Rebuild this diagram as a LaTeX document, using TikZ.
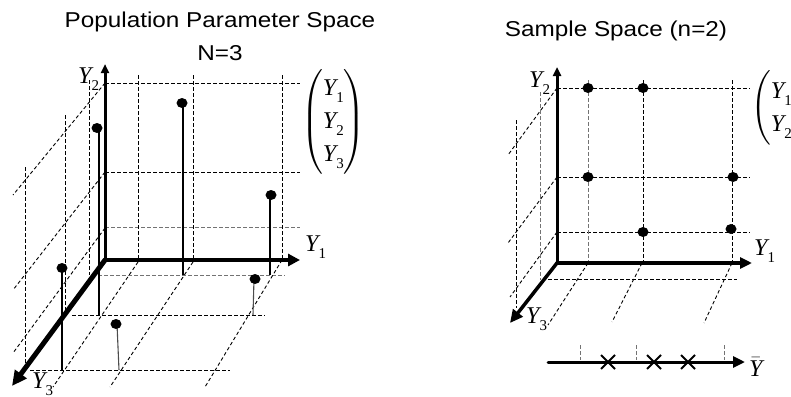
\documentclass[tikz,border=0pt]{standalone}
\usepackage{amsmath}
\usepackage{fontspec}
\setmainfont{Liberation Serif}
\newfontfamily\titlefont[FakeStretch=1.13]{Liberation Sans}
\usetikzlibrary{arrows.meta}
\newcommand{\yv}[1]{\textit{Y}\kern-2pt\raisebox{-7pt}{\fontsize{15}{15}\selectfont #1}}

\begin{document}
\begin{tikzpicture}[x=1pt, y=-1pt,
  ttl/.style={font=\titlefont\fontsize{21.5}{25}\selectfont, inner sep=0},
  lab/.style={font=\fontsize{24}{33}\selectfont, inner sep=0},
  gd/.style={dash pattern=on 3.5pt off 2.5pt, line width=0.9pt, black},
  gl/.style={gd, black!55},
  stem/.style={line width=1.1pt},
  axis/.style={line width=#1, line cap=round},
  dot/.style={fill=black}]
\useasboundingbox (0,0) rectangle (791,396);

% ---- left: population parameter space
\node[ttl, anchor=base] (t1) at (220,28) {Population Parameter Space};
\node[ttl, anchor=base] (t2) at (220,60) {N=3};
\coordinate (oL) at (105,260);
\coordinate (y1L) at (300,260);
\coordinate (y2L) at (105,64);
\coordinate (y3L) at (12,386);
% back plane
\draw[gd] (105,83) -- (300,83);
\draw[gd] (105,172) -- (300,172);
\draw[gl] (105,227) -- (300,227);
\draw[gd] (138,75) -- (138,262);
\draw[gd] (193,75) -- (193,262);
\draw[gd] (282,75) -- (282,260);
% side wall
\draw[gd] (105,83) -- (13,195);
\draw[gd] (105,172) -- (13,290);
\draw[gd] (105,228) -- (13,353);
\draw[gd] (89,80) -- (89,275);
\draw[gd] (65,115) -- (65,313);
\draw[gd] (25,167) -- (25,370);
% floor
\draw[gl] (98,275) -- (285,275);
\draw[gd] (72,315) -- (265,315);
\draw[gd] (30,370) -- (230,370);
\draw[gd] (138,262) -- (53,387);
\draw[gd] (193,262) -- (110,387);
\draw[gd] (282,260) -- (205,387);
% population points
\draw[stem] (183,103) -- (183,275);
\draw[stem] (99,128) -- (99,315);
\draw[stem] (270,195) -- (270,275);
\draw[stem] (62,268) -- (62,370);
\draw[stem, black!70] (254,279) -- (253,315);
\draw[stem, black!70] (117,324) -- (119,370);
\fill[dot] (182,103) ellipse [x radius=5.5pt, y radius=5pt];
\fill[dot] (97,128) ellipse [x radius=5.5pt, y radius=5pt];
\fill[dot] (271,195) ellipse [x radius=5.5pt, y radius=5pt];
\fill[dot] (62,268) ellipse [x radius=5.5pt, y radius=5pt];
\fill[dot] (255,279) ellipse [x radius=5.5pt, y radius=5pt];
\fill[dot] (116,324) ellipse [x radius=5.5pt, y radius=5pt];
% axes
\draw[axis=3pt, -{Triangle[length=9pt, width=8pt]}] (oL) -- (y2L);
\draw[axis=4pt, -{Triangle[length=12pt, width=12pt]}] (oL) -- (y1L);
\draw[axis=5pt, -{Triangle[length=15pt, width=14pt]}] (oL) -- (y3L);
\node[lab, anchor=base west] (ly2L) at (78,83) {\yv{2}};
\node[lab, anchor=base west] (ly1L) at (305,251) {\yv{1}};
\node[lab, anchor=base west] (ly3L) at (32,388) {\yv{3}};
\node[lab, anchor=west] (vecL) at (301,122)
  {$\begin{pmatrix}\hbox{\yv{1}}\\ \hbox{\yv{2}}\\ \hbox{\yv{3}}\end{pmatrix}$};

% ---- right: sample space
\node[ttl, anchor=base] (t3) at (616,37) {Sample Space (n=2)};
\coordinate (oR) at (557,263);
\coordinate (y1R) at (752,263);
\coordinate (y2R) at (557,67);
\coordinate (y3R) at (510,323);
% back plane
\draw[gd] (557,88) -- (750,88);
\draw[gd] (557,177) -- (750,177);
\draw[gd] (557,232) -- (750,232);
\draw[gl] (588,80) -- (588,263);
\draw[gd] (643,80) -- (643,263);
\draw[gd] (732,80) -- (732,263);
% side wall
\draw[gd] (557,88) -- (508,155);
\draw[gd] (557,177) -- (508,243);
\draw[gd] (557,232) -- (510,297);
\draw[gl] (540,92) -- (540,280);
\draw[gd] (516,120) -- (516,308);
% floor
\draw[gd] (548,279) -- (737,279);
\draw[gd] (588,263) -- (548,325);
\draw[gd] (642,263) -- (612,322);
\draw[gd] (732,263) -- (704,323);
% samples
\fill[dot] (588,88) ellipse [x radius=5.5pt, y radius=5pt];
\fill[dot] (643,88) ellipse [x radius=5.5pt, y radius=5pt];
\fill[dot] (588,177) ellipse [x radius=5.5pt, y radius=5pt];
\fill[dot] (733,177) ellipse [x radius=5.5pt, y radius=5pt];
\fill[dot] (643,232) ellipse [x radius=5.5pt, y radius=5pt];
\fill[dot] (731,229) ellipse [x radius=5.5pt, y radius=5pt];
% axes
\draw[axis=3pt, -{Triangle[length=9pt, width=8pt]}] (oR) -- (y2R);
\draw[axis=3.5pt, -{Triangle[length=12pt, width=11pt]}] (oR) -- (y1R);
\draw[axis=3.5pt, -{Triangle[length=13pt, width=12pt]}] (oR) -- (y3R);
\node[lab, anchor=base west] (ly2R) at (529,87) {\yv{2}};
\node[lab, anchor=base west] (ly1R) at (754,255) {\yv{1}};
\node[lab, anchor=base west] (ly3R) at (526,323) {\yv{3}};
\node[lab, anchor=west] (vecR) at (751,108)
  {$\begin{pmatrix}\hbox{\yv{1}}\\ \hbox{\yv{2}}\end{pmatrix}$};

% ---- sample means
\coordinate (m0) at (548,362);
\coordinate (m1) at (745,362);
\draw[gl] (580,345) -- (580,360);
\draw[gl] (636,345) -- (636,360);
\draw[gl] (724,345) -- (724,360);
\draw[axis=3pt, -{Triangle[length=12pt, width=11pt]}] (m0) -- (m1);
\foreach \cx in {608,654,688}
  \draw[line width=1.8pt] (\cx-7,355) -- (\cx+7,369) (\cx-7,369) -- (\cx+7,355);
\node[lab, anchor=base west] (lybar) at (749,376) {$\bar{\hbox{\itshape Y}}$};
\end{tikzpicture}
\end{document}
